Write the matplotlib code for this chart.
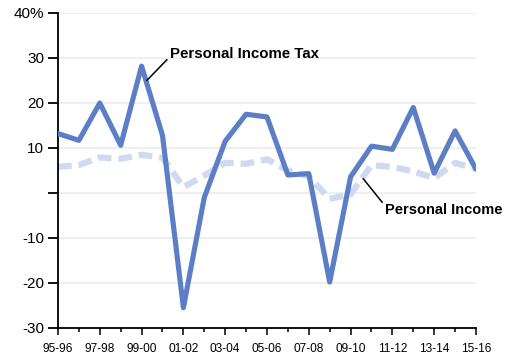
import matplotlib
matplotlib.use("Agg")
import matplotlib.pyplot as plt

plt.rcParams['font.family'] = ['Liberation Sans', 'DejaVu Sans']

# Dados (variação anual, %)
anos = ["95-96", "96-97", "97-98", "98-99", "99-00", "00-01", "01-02", "02-03",
        "03-04", "04-05", "05-06", "06-07", "07-08", "08-09", "09-10", "10-11",
        "11-12", "12-13", "13-14", "14-15", "15-16"]
imposto_renda = [13.2, 11.7, 20.0, 10.6, 28.2, 12.8, -25.5, -1.0, 11.5, 17.5, 16.9,
                 4.0, 4.3, -19.8, 3.6, 10.4, 9.7, 19.0, 4.4, 13.8, 5.3]
renda_pessoal = [5.8, 6.2, 7.9, 7.6, 8.5, 7.8, 1.3, 3.9, 6.7, 6.5, 7.5,
                 5.0, 3.7, -1.3, -0.3, 6.2, 5.8, 4.8, 3.3, 6.7, 5.4]
y_ticks = [-30, -20, -10, 0, 10, 20, 30, 40]
y_labels = ["-30", "-20", "-10", "", "10", "20", "30", "40%"]

fig = plt.figure(figsize=(5.1, 3.59), dpi=100)
ax = fig.add_axes([0.1137, 0.0864, 0.8196, 0.8774])

x = list(range(len(anos)))

# Grade horizontal clara
for v in y_ticks[1:]:
    ax.axhline(v, color='#ececec', linewidth=1.2, zorder=0)

ax.plot(x, renda_pessoal, color='#cfdaf0', linewidth=4.5, dashes=(2.2, 1.1),
        solid_capstyle='butt', zorder=2)
ax.plot(x, imposto_renda, color='#5b7ec6', linewidth=3.7, solid_joinstyle='round',
        solid_capstyle='round', zorder=3)

ax.set_xlim(0, len(anos) - 1)
ax.set_ylim(-30, 40)
ax.set_yticks(y_ticks)
ax.set_yticklabels(y_labels, fontsize=11)
ax.set_xticks(x[::2])
ax.set_xticklabels(anos[::2], fontsize=8.6)
ax.set_xticks(x, minor=True)

ax.spines['top'].set_visible(False)
ax.spines['right'].set_visible(False)
ax.spines['left'].set_linewidth(1.3)
ax.spines['bottom'].set_linewidth(1.3)
ax.tick_params(axis='y', length=7, width=1.3, pad=3)
ax.tick_params(axis='x', which='major', length=5, width=1.1, pad=6)
ax.tick_params(axis='x', which='minor', length=3, width=1.1)

# Rótulos das séries
ax.annotate("Personal Income Tax", xy=(4.25, 25.0), xytext=(5.35, 30.9),
            fontsize=10.8, fontweight='bold', va='center', ha='left',
            arrowprops=dict(arrowstyle='-', color='black', lw=1.1,
                            shrinkA=0, shrinkB=0, relpos=(0, 0.3)))
ax.annotate("Personal Income", xy=(14.6, 3.2), xytext=(15.65, -3.8),
            fontsize=10.5, fontweight='bold', va='center', ha='left',
            arrowprops=dict(arrowstyle='-', color='black', lw=1.1,
                            shrinkA=0, shrinkB=0, relpos=(0, 0.8)))

fig.savefig("out.png", dpi=100)
